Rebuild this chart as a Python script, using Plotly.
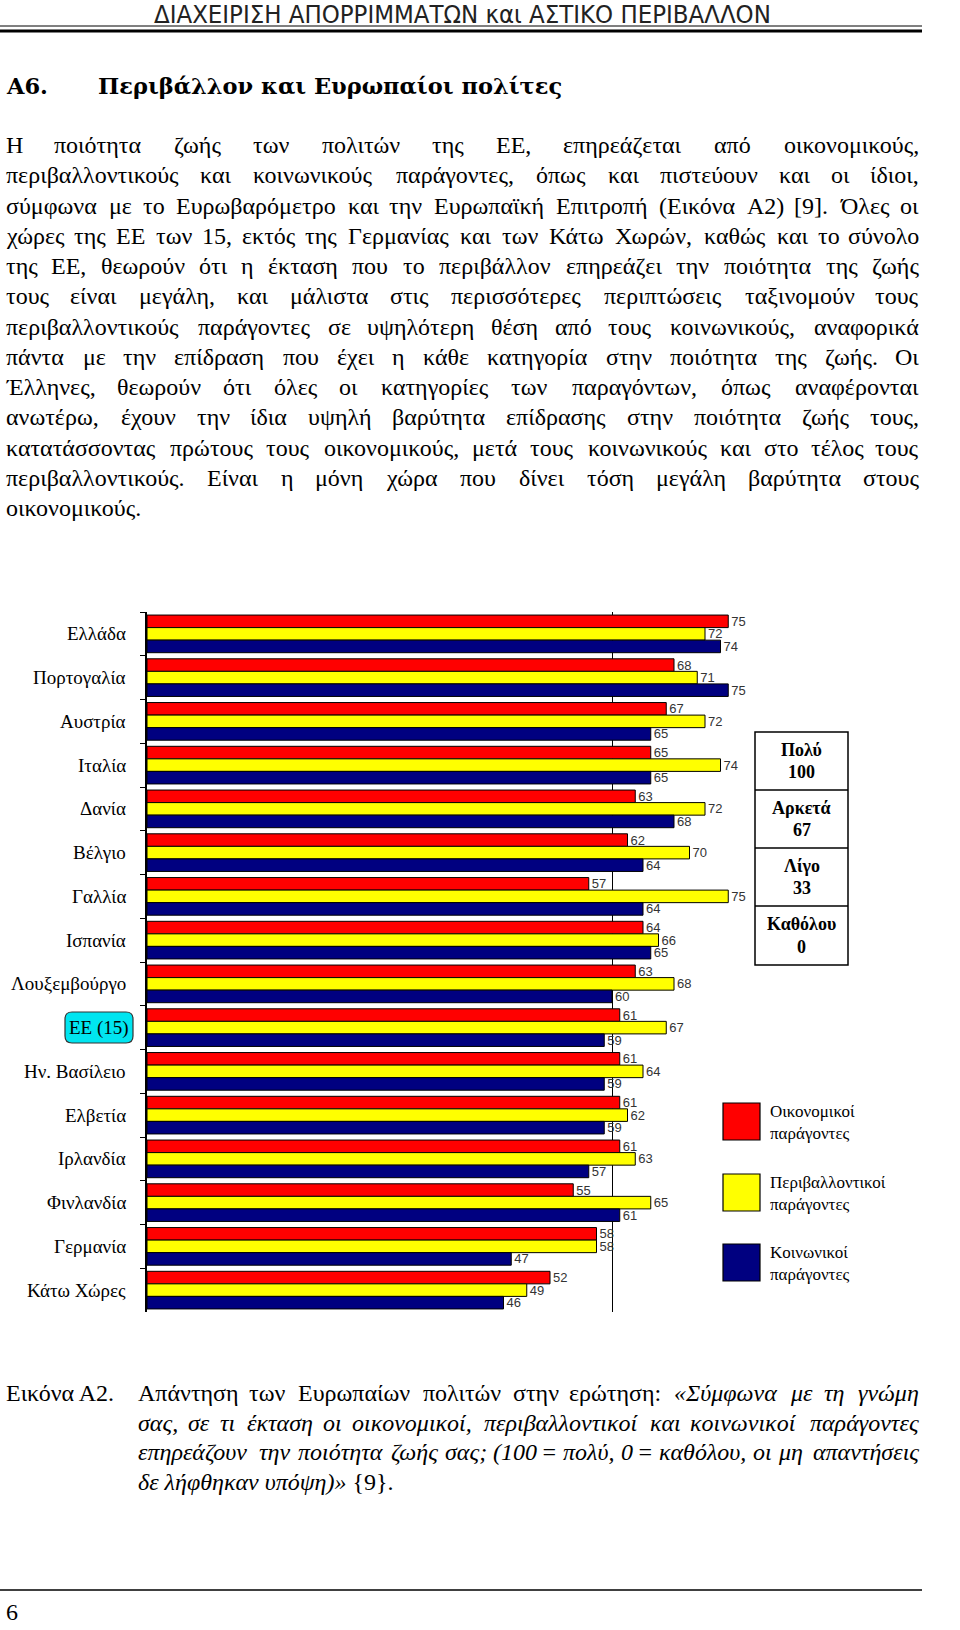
import unicodedata
import plotly.graph_objects as go

# ---------------- data ----------------
countries = ["Ελλάδα", "Πορτογαλία", "Αυστρία", "Ιταλία", "Δανία", "Βέλγιο", "Γαλλία",
             "Ισπανία", "Λουξεμβούργο", "ΕΕ (15)", "Ην. Βασίλειο", "Ελβετία", "Ιρλανδία",
             "Φινλανδία", "Γερμανία", "Κάτω Χώρες"]
economic = [75, 68, 67, 65, 63, 62, 57, 64, 63, 61, 61, 61, 61, 55, 58, 52]
environmental = [72, 71, 72, 74, 72, 70, 75, 66, 68, 67, 64, 62, 63, 65, 58, 49]
social = [74, 75, 65, 65, 68, 64, 64, 65, 60, 59, 59, 59, 57, 61, 47, 46]
series_names = ["Οικονομικοί<br>παράγοντες", "Περιβαλλοντικοί<br>παράγοντες", "Κοινωνικοί<br>παράγοντες"]
series_colors = ["#FF0000", "#FFFF00", "#000080"]
scale_labels = ["Πολύ", "Αρκετά", "Λίγο", "Καθόλου"]
scale_values = [100, 67, 33, 0]

header = "ΔΙΑΧΕΙΡΙΣΗ ΑΠΟΡΡΙΜΜΑΤΩΝ και ΑΣΤΙΚΟ ΠΕΡΙΒΑΛΛΟΝ"
section_no = "Α6."
section_title = "Περιβάλλον και Ευρωπαίοι πολίτες"
body_lines = [
    "Η ποιότητα ζωής των πολιτών της ΕΕ, επηρεάζεται από οικονομικούς,",
    "περιβαλλοντικούς και κοινωνικούς παράγοντες, όπως και πιστεύουν και οι ίδιοι,",
    "σύμφωνα με το Ευρωβαρόμετρο και την Ευρωπαϊκή Επιτροπή (Εικόνα Α2) [9]. Όλες οι",
    "χώρες της ΕΕ των 15, εκτός της Γερμανίας και των Κάτω Χωρών, καθώς και το σύνολο",
    "της ΕΕ, θεωρούν ότι η έκταση που το περιβάλλον επηρεάζει την ποιότητα της ζωής",
    "τους είναι μεγάλη, και μάλιστα στις περισσότερες περιπτώσεις ταξινομούν τους",
    "περιβαλλοντικούς παράγοντες σε υψηλότερη θέση από τους κοινωνικούς, αναφορικά",
    "πάντα με την επίδραση που έχει η κάθε κατηγορία στην ποιότητα της ζωής. Οι",
    "Έλληνες, θεωρούν ότι όλες οι κατηγορίες των παραγόντων, όπως αναφέρονται",
    "ανωτέρω, έχουν την ίδια υψηλή βαρύτητα επίδρασης στην ποιότητα ζωής τους,",
    "κατατάσσοντας πρώτους τους οικονομικούς, μετά τους κοινωνικούς και στο τέλος τους",
    "περιβαλλοντικούς. Είναι η μόνη χώρα που δίνει τόση μεγάλη βαρύτητα στους",
    "οικονομικούς.",
]
caption_label = "Εικόνα Α2."
caption_lines = [
    ("Απάντηση των Ευρωπαίων πολιτών στην ερώτηση:", "«Σύμφωνα με τη γνώμη"),
    ("", "σας, σε τι έκταση οι οικονομικοί, περιβαλλοντικοί και κοινωνικοί παράγοντες"),
    ("", "επηρεάζουν την ποιότητα ζωής σας; (100 = πολύ, 0 = καθόλου, οι μη απαντήσεις"),
    ("", "δε λήφθηκαν υπόψη)» {9}."),
]
page_number = "6"

# ---------------- helpers ----------------
W, H = 960, 1630
SERIF = "Liberation Serif, Times New Roman, serif"
BODYFONT = SERIF
HEADFONT = "DejaVu Serif, serif"
SANS = "Liberation Sans, Arial, sans-serif"


def X(p):
    return p / W


def Y(p):
    return 1 - p / H


WID = {
    'α': .546, 'β': .5, 'γ': .453, 'δ': .5, 'ε': .428, 'ζ': .426, 'η': .5, 'θ': .488, 'ι': .273,
    'κ': .503, 'λ': .473, 'μ': .553, 'ν': .454, 'ξ': .43, 'ο': .5, 'π': .537, 'ρ': .5, 'σ': .531,
    'ς': .412, 'τ': .41, 'υ': .491, 'φ': .613, 'χ': .467, 'ψ': .663, 'ω': .684,
    'Α': .722, 'Β': .667, 'Γ': .578, 'Δ': .66, 'Ε': .611, 'Ζ': .611, 'Η': .722, 'Θ': .722,
    'Ι': .333, 'Κ': .722, 'Λ': .703, 'Μ': .889, 'Ν': .722, 'Ξ': .642, 'Ο': .722, 'Π': .722,
    'Ρ': .556, 'Σ': .592, 'Τ': .611, 'Υ': .722, 'Φ': .765, 'Χ': .722, 'Ψ': .806, 'Ω': .768,
    ',': .25, '.': .25, ';': .278, ':': .278, '(': .333, ')': .333, '[': .333, ']': .333,
    '«': .5, '»': .5, '{': .48, '}': .48, '=': .564, ' ': .25,
}


def est(word, size):
    tot = 0
    for ch in word:
        base = unicodedata.normalize('NFD', ch)[0]
        w = WID.get(base, .5)
        if ch != base and base.isupper():
            w += .12
        tot += w
    return tot * size


annotations = []


def add_text(text, x, y, size, family=SERIF, anchor='left', color='black', yanchor='middle', align='center'):
    annotations.append(dict(text=text, x=X(x), y=Y(y), xref='paper', yref='paper',
                            xanchor=anchor, yanchor=yanchor, showarrow=False, borderpad=0,
                            align=align, font=dict(size=size, family=family, color=color)))


def justify(words, y, left, right, size, italic=None):
    if italic is None:
        italic = [False] * len(words)
    ws = [est(w, size) for w in words]
    n = len(words)
    gap = (right - left - sum(ws)) / (n - 1)
    pos = left
    for i, (w, wd) in enumerate(zip(words, ws)):
        t = "<i>%s</i>" % w if italic[i] else w
        if i == 0:
            add_text(t, left, y, size, family=BODYFONT, anchor='left')
        elif i == n - 1:
            add_text(t, right, y, size, family=BODYFONT, anchor='right')
        else:
            add_text(t, pos + wd / 2, y, size, family=BODYFONT, anchor='center')
        pos += wd + gap


shapes = []


def line(x0, y0, x1, y1, w=1, color='black'):
    shapes.append(dict(type='line', xref='paper', yref='paper', x0=X(x0), y0=Y(y0), x1=X(x1), y1=Y(y1),
                       line=dict(color=color, width=w)))


def rect(x0, y0, x1, y1, fill='rgba(0,0,0,0)', w=1, color='black'):
    shapes.append(dict(type='rect', xref='paper', yref='paper', x0=X(x0), y0=Y(y0), x1=X(x1), y1=Y(y1),
                       fillcolor=fill, line=dict(color=color, width=w)))


# ---------------- page text ----------------
add_text(header, 462, 14, 25.5, family="Liberation Sans Narrow, DejaVu Sans Condensed, sans-serif",
         anchor='center', color='#222')
line(0, 26, 922, 26, 1)
line(0, 31, 922, 31, 3)

add_text("<b>%s</b>" % section_no, 5, 86, 22.5, family=HEADFONT)
add_text("<b>%s</b>" % section_title, 97, 86, 22.5, family=HEADFONT)

BODY = 24
for i, ln in enumerate(body_lines):
    y = 145 + 30.25 * i
    if i == len(body_lines) - 1:
        add_text(ln, 5, y, BODY, family=BODYFONT)
    else:
        justify(ln.split(' '), y, 5, 920, BODY)

# caption
add_text(caption_label, 5, 1393, BODY, family=BODYFONT)
cap_y = [1393, 1423, 1452, 1482]
for i, (reg, ital) in enumerate(caption_lines):
    words = (reg.split(' ') if reg else []) + ital.split(' ')
    flags = [False] * (len(reg.split(' ')) if reg else 0) + [True] * len(ital.split(' '))
    if i == len(caption_lines) - 1:
        parts = ital.split(' ')
        txt = "<i>%s</i> %s" % (' '.join(parts[:-1]), parts[-1])
        add_text(txt, 137, cap_y[i], BODY, family=BODYFONT)
    else:
        justify(words, cap_y[i], 137, 920, BODY, flags)

line(0, 1590, 922, 1590, 1.5)
add_text(page_number, 5, 1612, BODY, family=BODYFONT)

# ---------------- chart ----------------
fig = go.Figure()
for vals, name, col in zip([economic, environmental, social], series_names, series_colors):
    fig.add_trace(go.Bar(
        y=countries, x=vals, orientation='h', name=name,
        marker=dict(color=col, line=dict(color='black', width=1)),
        text=[str(v) for v in vals], textposition='outside', cliponaxis=False,
        constraintext='none',
        textfont=dict(family=SANS, size=13, color='#333333'),
        showlegend=False,
    ))

# category labels
for c in countries:
    if c == "ΕΕ (15)":
        continue
    annotations.append(dict(text=c, x=X(128), y=c, xref='paper', yref='y', xanchor='right',
                            yanchor='middle', showarrow=False,
                            font=dict(size=19, family=SERIF, color='black')))
# EU box (rounded)
x0, x1, y0, y1, r = 65, 133, 1012, 1043, 7
path = ("M {a},{b} L {c},{b} Q {d},{b} {d},{e} L {d},{f} Q {d},{g} {c},{g} L {a},{g} "
        "Q {h},{g} {h},{f} L {h},{e} Q {h},{b} {a},{b} Z").format(
    a=X(x0 + r), b=Y(y0), c=X(x1 - r), d=X(x1), e=Y(y0 + r), f=Y(y1 - r), g=Y(y1), h=X(x0))
shapes.append(dict(type='path', xref='paper', yref='paper', path=path, fillcolor='#00E5F0',
                   line=dict(color='#333', width=1.2)))
annotations.append(dict(text="ΕΕ (15)", x=X(99), y="ΕΕ (15)", xref='paper', yref='y',
                        xanchor='center', yanchor='middle', showarrow=False,
                        font=dict(size=19, family=SERIF, color='black')))

# scale table
tx0, tx1 = 755, 848
rows = [732, 790, 848, 906, 965]
rect(tx0, rows[0], tx1, rows[-1], w=1.5)
for r_ in rows[1:-1]:
    line(tx0, r_, tx1, r_, 1.5)
for i, (lab, val) in enumerate(zip(scale_labels, scale_values)):
    yc = (rows[i] + rows[i + 1]) / 2
    add_text("<b>%s</b>" % lab, (tx0 + tx1) / 2, yc - 11, 18, anchor='center')
    add_text("<b>%d</b>" % val, (tx0 + tx1) / 2, yc + 11, 18, anchor='center')

# series legend
leg_y = [1103, 1174, 1244]
for yy, name, col in zip(leg_y, series_names, series_colors):
    rect(723, yy, 760, yy + 37, fill=col, w=1.2)
    add_text(name, 769, yy + 19, 17, anchor='left', align='left')

fig.update_layout(
    width=W, height=H, autosize=False,
    margin=dict(l=0, r=0, t=0, b=0),
    paper_bgcolor='white', plot_bgcolor='white',
    barmode='group', bargap=0.14, bargroupgap=0,
    xaxis=dict(domain=[X(147), X(767)], range=[0, 80], showticklabels=False,
               tickvals=[60], showgrid=True, gridcolor='black', gridwidth=1,
               zeroline=False, showline=False, ticks=''),
    yaxis=dict(domain=[Y(1312), Y(612)], categoryorder='array', categoryarray=countries,
               range=[15.5, -0.5], showticklabels=False, showgrid=False, zeroline=False,
               showline=True, linecolor='black', linewidth=1.5,
               ticks='outside', ticklen=5, tickcolor='black', tickson='boundaries'),
    annotations=annotations,
    shapes=shapes,
    showlegend=False,
)

fig.write_html("out.html", config={'displayModeBar': False},
               post_script="document.body.style.margin='0';")
